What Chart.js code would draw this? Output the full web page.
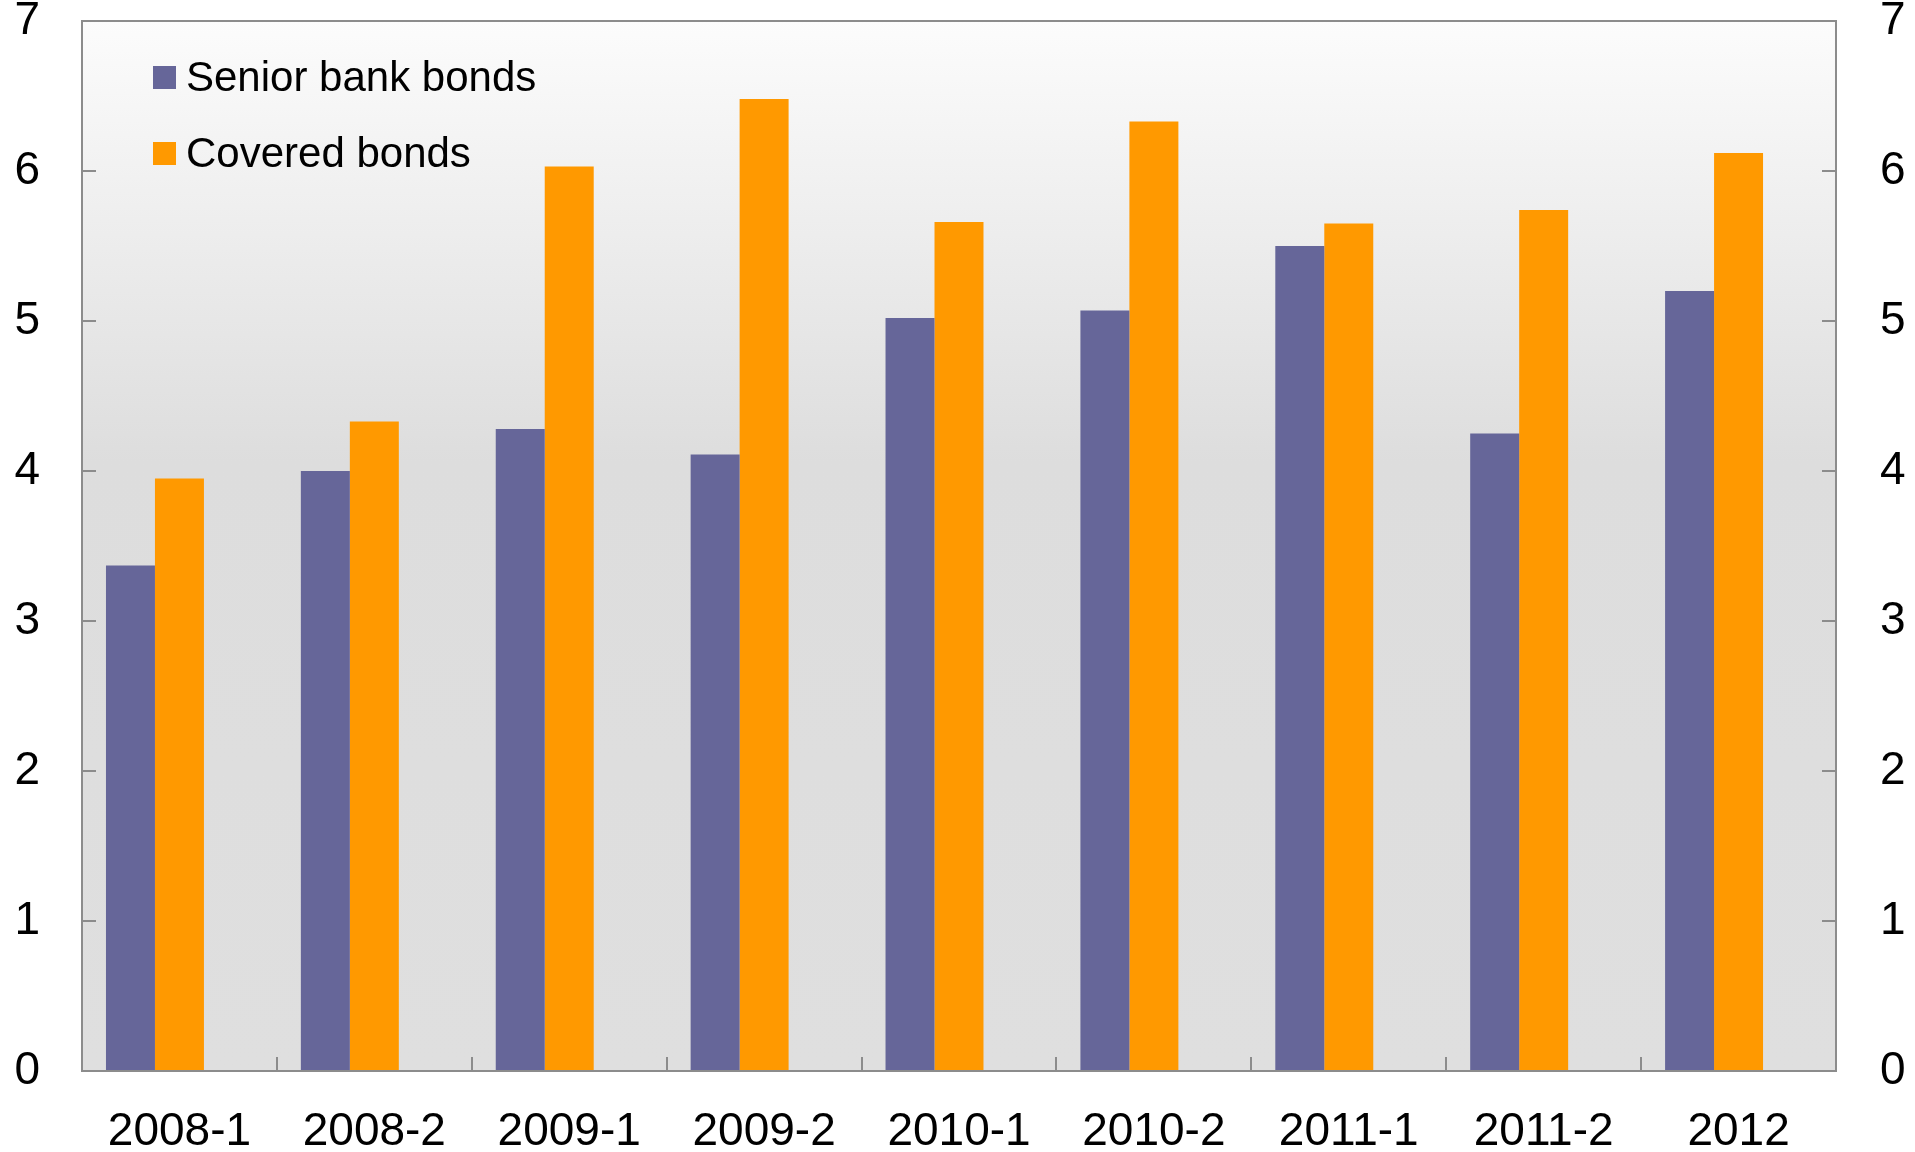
<!DOCTYPE html>
<html>
<head>
<meta charset="utf-8">
<script src="https://cdn.jsdelivr.net/npm/chart.js@4/dist/chart.umd.min.js"></script>
<style>
  html, body { margin: 0; padding: 0; background: #ffffff; }
  #wrap { width: 1915px; height: 1152px; position: relative; }
</style>
</head>
<body>
<div id="wrap"><canvas id="bondChart"></canvas></div>
<script>
// Half-years on the x axis
const periods = ['2008-1', '2008-2', '2009-1', '2009-2', '2010-1', '2010-2', '2011-1', '2011-2', '2012'];
const seniorBank = [3.37, 4.00, 4.28, 4.11, 5.02, 5.07, 5.50, 4.25, 5.20];
const coveredBonds = [3.95, 4.33, 6.03, 6.48, 5.66, 6.33, 5.65, 5.74, 6.12];
const yTicks = [0, 1, 2, 3, 4, 5, 6, 7];

const FONT = "'Liberation Sans', Arial, sans-serif";
const FRAME = '#8c8c8c';

// Shaded plot background, light at the top
const plotBackground = {
    id: 'plotBackground',
    beforeDraw(chart) {
        const { ctx, chartArea: a } = chart;
        const g = ctx.createLinearGradient(0, a.top, 0, a.bottom);
        g.addColorStop(0, '#fcfcfc');
        g.addColorStop(0.42, '#dddddd');
        g.addColorStop(1, '#dfdfdf');
        ctx.save();
        ctx.fillStyle = g;
        ctx.fillRect(a.left, a.top, a.right - a.left, a.bottom - a.top);
        ctx.restore();
    }
};

// Frame, inward tick marks and legend inside the plot
const frameAndLegend = {
    id: 'frameAndLegend',
    afterDraw(chart) {
        const { ctx, chartArea: a, scales } = chart;
        ctx.save();
        ctx.strokeStyle = FRAME;
        ctx.lineWidth = 2;
        ctx.beginPath();
        yTicks.forEach(v => {
            const y = Math.round(scales.y.getPixelForValue(v));
            ctx.moveTo(a.left, y); ctx.lineTo(a.left + 14, y);
            ctx.moveTo(a.right, y); ctx.lineTo(a.right - 14, y);
        });
        const step = (a.right - a.left) / periods.length;
        for (let i = 1; i < periods.length; i++) {
            const x = Math.round(a.left + i * step);
            ctx.moveTo(x, a.bottom); ctx.lineTo(x, a.bottom - 14);
        }
        ctx.stroke();
        ctx.strokeRect(a.left, a.top, a.right - a.left, a.bottom - a.top);

        // legend
        ctx.font = '42px ' + FONT;
        ctx.textBaseline = 'middle';
        chart.data.datasets.forEach((ds, i) => {
            if (!ds.label) return;
            const cy = 77 + i * 76;
            ctx.fillStyle = ds.backgroundColor;
            ctx.fillRect(153, cy - 11, 23, 23);
            ctx.fillStyle = '#000';
            ctx.fillText(ds.label, 186, cy + 2);
        });
        ctx.restore();
    }
};

// fixed box sizes, no extra room for half-labels at the ends
function fixSize(w, h) {
    return function (scale) {
        if (w !== null) scale.width = w;
        if (h !== null) scale.height = h;
        scale.paddingTop = 0;
        scale.paddingBottom = 0;
        scale.paddingLeft = 0;
        scale.paddingRight = 0;
    };
}

const ctx = document.getElementById('bondChart');
new Chart(ctx, {
    type: 'bar',
    data: {
        labels: periods,
        datasets: [
            { label: 'Senior bank bonds', data: seniorBank, backgroundColor: '#666699' },
            { label: 'Covered bonds', data: coveredBonds, backgroundColor: '#ff9900' },
            // empty third slot keeps the pair left of the category centre
            { label: '', data: [], backgroundColor: 'rgba(0,0,0,0)' }
        ]
    },
    options: {
        responsive: true,
        maintainAspectRatio: false,
        animation: false,
        layout: { padding: { top: 21, left: 0, right: 0, bottom: 0 } },
        datasets: { bar: { barPercentage: 1, categoryPercentage: 0.754 } },
        plugins: {
            legend: { display: false },
            tooltip: { enabled: false }
        },
        scales: {
            x: {
                grid: { display: false, drawTicks: false },
                border: { display: false },
                ticks: { color: '#000', font: { family: FONT, size: 46 }, padding: 34, maxRotation: 0 },
                afterFit: fixSize(null, 81)
            },
            y: {
                position: 'left',
                min: 0, max: 7,
                grid: { display: false, drawTicks: false },
                border: { display: false },
                ticks: { stepSize: 1, color: '#000', font: { family: FONT, size: 46 }, padding: 42 },
                afterFit: fixSize(82, null)
            },
            y2: {
                position: 'right',
                min: 0, max: 7,
                grid: { display: false, drawTicks: false },
                border: { display: false },
                ticks: { stepSize: 1, color: '#000', font: { family: FONT, size: 46 }, padding: 44 },
                afterFit: fixSize(79, null)
            }
        }
    },
    plugins: [plotBackground, frameAndLegend]
});
</script>
</body>
</html>
